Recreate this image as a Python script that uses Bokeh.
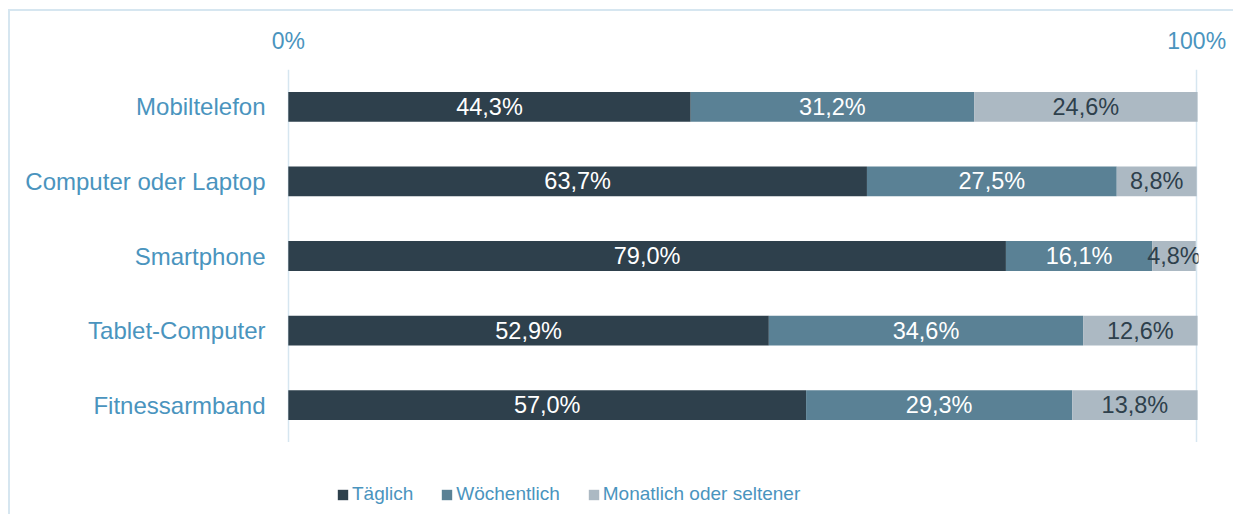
from bokeh.plotting import figure
from bokeh.layouts import column
from bokeh.models import (ColumnDataSource, FactorRange, Range1d, FixedTicker,
                          Legend, LegendItem, LabelSet)
from bokeh.embed import file_html
from bokeh.resources import INLINE
from bokeh.core.properties import value

categories = ["Mobiltelefon", "Computer oder Laptop", "Smartphone", "Tablet-Computer", "Fitnessarmband"]
series = ["Täglich", "Wöchentlich", "Monatlich oder seltener"]
taeglich = [44.3, 63.7, 79.0, 52.9, 57.0]
woechentlich = [31.2, 27.5, 16.1, 34.6, 29.3]
monatlich = [24.6, 8.8, 4.8, 12.6, 13.8]
tick_values = [0, 100]
tick_labels = ["0%", "100%"]

colors = ["#2e404c", "#5a8195", "#acb9c3"]
label_colors = ["#ffffff", "#ffffff", "#2e404c"]
blue = "#4a94be"
grid_col = "#d6e6f0"
FONT = "Liberation Sans"

data = {"cat": categories}
for s, vals in zip(series, [taeglich, woechentlich, monatlich]):
    data[s] = vals
source = ColumnDataSource(data)

p = figure(width=1225, height=431,
           y_range=FactorRange(factors=list(reversed(categories))),
           x_range=Range1d(-0.2, 100.2),
           output_backend="svg", toolbar_location=None,
           x_axis_location="above",
           min_border_left=276, min_border_right=37,
           min_border_top=58, min_border_bottom=0)

renderers = p.hbar_stack(series, y="cat", height=0.4, color=colors,
                         line_color=None, source=source)

# labels at segment centers
starts = [0.0] * len(categories)
for s, vals, lc in zip(series, [taeglich, woechentlich, monatlich], label_colors):
    mids = [st + v / 2 for st, v in zip(starts, vals)]
    texts = [f"{v:.1f}".replace(".", ",") + "%" for v in vals]
    lsrc = ColumnDataSource({"x": mids, "y": categories, "t": texts})
    p.add_layout(LabelSet(x="x", y="y", text="t", source=lsrc,
                          text_align="center", text_baseline="middle",
                          text_color=lc, text_font=value(FONT),
                          text_font_size="23.5px"))
    starts = [st + v for st, v in zip(starts, vals)]

# axes
xa = p.xaxis[0]
xa.ticker = FixedTicker(ticks=tick_values)
xa.major_label_overrides = {v: t for v, t in zip(tick_values, tick_labels)}
xa.axis_line_color = None
xa.major_tick_line_color = None
xa.minor_tick_line_color = None
xa.major_tick_out = 0
xa.major_label_standoff = 16
xa.major_label_text_color = blue
xa.major_label_text_font = FONT
xa.major_label_text_font_size = "23px"

ya = p.yaxis[0]
ya.axis_line_color = None
ya.major_tick_line_color = None
ya.minor_tick_line_color = None
ya.major_tick_out = 0
ya.major_label_standoff = 21
ya.major_label_text_color = blue
ya.major_label_text_font = FONT
ya.major_label_text_font_size = "24px"

p.xgrid.ticker = FixedTicker(ticks=tick_values)
p.xgrid.grid_line_color = grid_col
p.xgrid.grid_line_width = 1.5
p.ygrid.grid_line_color = None
p.outline_line_color = None

# legend panel (second figure, aligned below)
p2 = figure(width=1225, height=74,
            y_range=FactorRange(factors=list(reversed(categories))),
            x_range=Range1d(0, 100),
            output_backend="svg", toolbar_location=None,
            x_axis_type=None, y_axis_type=None,
            min_border_left=0, min_border_right=0,
            min_border_top=0, min_border_bottom=0)
p2.grid.visible = False
p2.outline_line_color = None
leg_renderers = p2.hbar_stack(series, y="cat", height=0.4, color=colors,
                              line_color=None, source=source, visible=False)

legend = Legend(items=[LegendItem(label=s, renderers=[r]) for s, r in zip(series, leg_renderers)],
                orientation="horizontal", location=(50, 11),
                glyph_width=13, glyph_height=13, label_standoff=3, spacing=27,
                padding=0, margin=0, border_line_color=None,
                background_fill_alpha=0,
                label_text_font=FONT, label_text_font_size="19px",
                label_text_color=blue)
p2.add_layout(legend)

layout = column(p, p2, spacing=0)
layout.margin = (11, 0, 0, 10)
layout.styles = {"box-shadow": "-2px -2px 0 0 " + grid_col}

open("out.html", "w").write(file_html(layout, INLINE))
